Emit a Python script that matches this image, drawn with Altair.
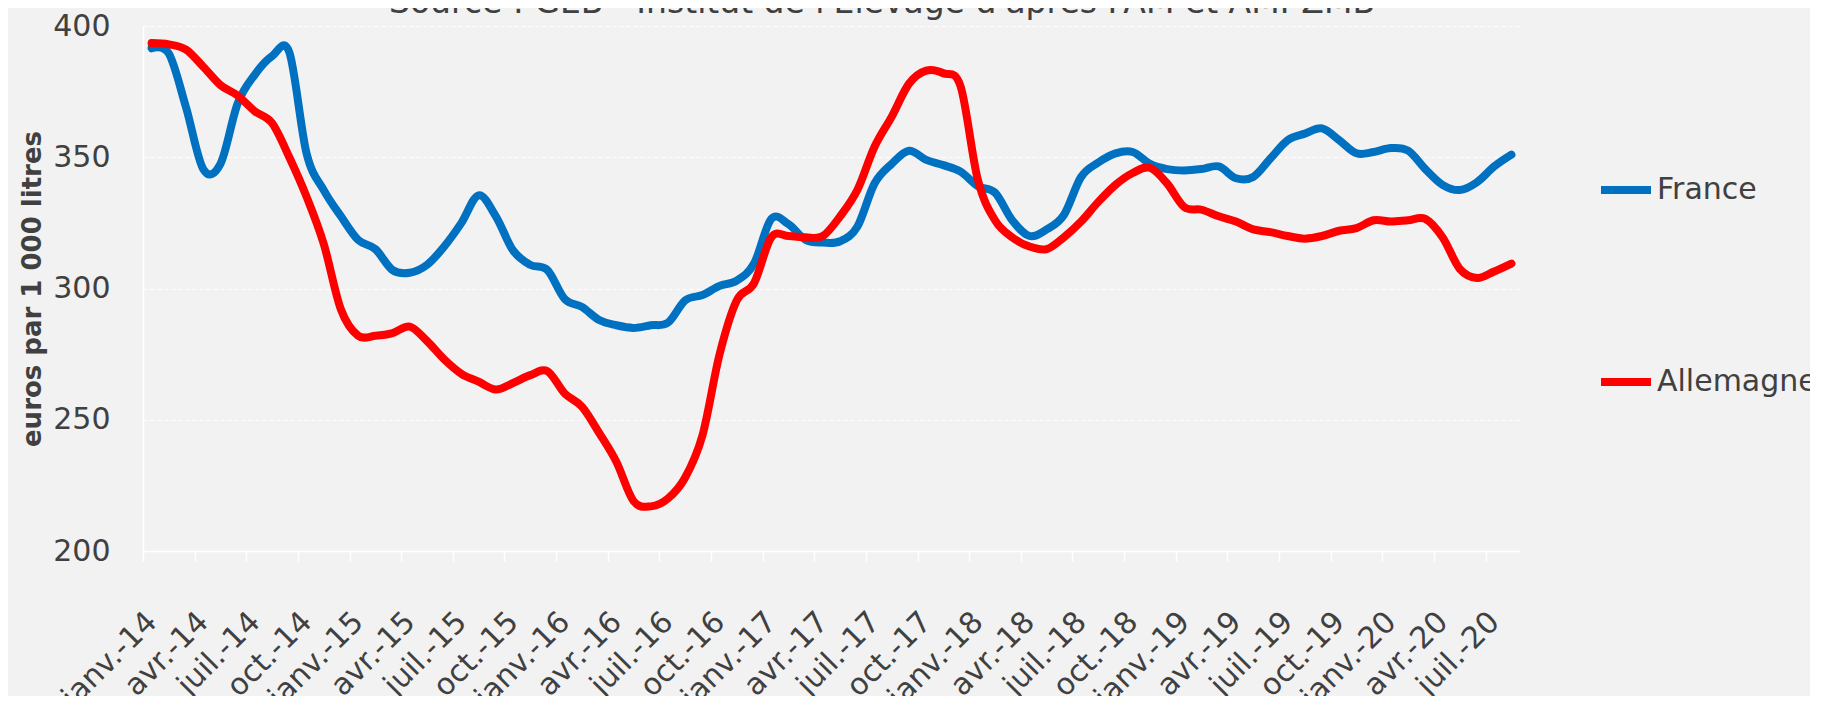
import altair as alt
import pandas as pd

mois = ["janv.", "févr.", "mars", "avr.", "mai", "juin",
        "juil.", "août", "sept.", "oct.", "nov.", "déc."]
annees = ["14", "15", "16", "17", "18", "19", "20"]
categories = [f"{m}-{a}" for a in annees for m in mois][:80]
tick_labels = categories[::3]

france = [391.5, 389.5, 369, 345.5, 347.5, 370.5, 381.5, 388.5, 390, 351.5,
          337.5, 327.5, 318.5, 315, 307, 306, 309, 316, 325, 335.5,
          327.5, 314.5, 309, 307, 296, 293, 288, 286, 285, 286,
          287, 295.5, 297.5, 301, 303, 309.5, 326.5, 324.5, 318.5, 317.5,
          318, 323.5, 340, 347.5, 352.5, 349, 347, 344.5, 339, 336.5,
          326, 320, 322.5, 328, 342.5, 348, 351.5, 352, 347.5, 345.5,
          345, 345.5, 346.5, 342, 342.5, 349.5, 356.5, 359, 361, 356.5,
          351.5, 352, 353.5, 352.5, 345.5, 339.5, 337.5, 340.5, 346.5, 351]

allemagne = [393.5, 393, 391, 384.5, 377.5, 373.5, 367.5, 363, 350, 335,
             317, 292, 282, 282, 283, 285.5, 280, 273, 267.5, 264.5,
             261.5, 264, 267, 268.5, 260, 255, 245, 234, 219, 217,
             220, 228, 244, 275, 295.5, 302, 319.5, 320, 319.5, 320,
             327.5, 337.5, 354, 365.5, 378, 383, 382, 377, 341.5, 326,
             319.5, 316, 315, 319.5, 325.5, 333, 339.5, 344, 346, 340,
             331, 330, 327.5, 325.5, 322.5, 321.5, 320, 319, 320, 322,
             323, 326, 325.5, 326, 326.5, 319.5, 307.5, 304, 306.5, 309.5]

series = ["France", "Allemagne"]
couleurs = ["#0070C0", "#FF0000"]
y_ticks = [200, 250, 300, 350, 400]
source_text = "Source : GEB - Institut de l'Elevage d'après FAM et AMI-ZMB"
y_title = "euros par 1 000 litres"

df = pd.DataFrame({
    "mois": categories * 2,
    "pays": ["France"] * len(france) + ["Allemagne"] * len(allemagne),
    "prix": france + allemagne,
})

W, H = 1377, 525
step = W / len(categories)
FONT = "DejaVu Sans"
GREY = "#404040"

x_enc = alt.X(
    "mois:O", sort=categories,
    scale=alt.Scale(type="point", padding=0.5),
    axis=alt.Axis(
        values=tick_labels, title=None, labelAngle=315,
        labelAlign="right", labelBaseline="middle",
        labelFontSize=30, labelFont=FONT, labelColor=GREY,
        labelPadding=56, tickOffset=-step / 2, labelOffset=step / 2,
        ticks=True, tickSize=10, tickColor="#ffffff", tickWidth=1.5,
        domain=True, domainColor="#ffffff", domainWidth=1.5,
        grid=False, labelOverlap=False,
    ),
)
y_enc = alt.Y(
    "prix:Q",
    scale=alt.Scale(domain=[200, 400], nice=False, zero=False),
    axis=alt.Axis(
        values=y_ticks, title=y_title, titleFontSize=26, titleFont=FONT,
        titleFontWeight="bold", titleColor=GREY, titleAngle=270,
        titleX=-103, titleY=H / 2, titleAlign="center", titleBaseline="alphabetic",
        labelFontSize=30, labelFont=FONT, labelColor=GREY, labelPadding=33,
        ticks=False, domain=True, domainColor="#ffffff", domainWidth=1.5,
        grid=True, gridColor="#ffffff", gridDash=[4, 3], gridWidth=1.2,
    ),
)
color_enc = alt.Color(
    "pays:N",
    scale=alt.Scale(domain=series, range=couleurs),
    legend=alt.Legend(
        title=None, orient="none", legendX=1454, legendY=135,
        symbolType="stroke", symbolSize=2500, symbolStrokeWidth=8,
        labelFontSize=30, labelFont=FONT, labelColor=GREY, labelOffset=2,
        labelLimit=400, rowPadding=147, padding=0,
    ),
)

base = alt.Chart(df).mark_line(strokeWidth=8, interpolate="cardinal",
                               strokeJoin="round", strokeCap="round")
lines = alt.layer(
    *[base.transform_filter(alt.datum.pays == s).encode(x=x_enc, y=y_enc, color=color_enc)
      for s in series]
)

title = alt.Chart(pd.DataFrame({"t": [source_text]})).mark_text(
    font=FONT, fontSize=33, color=GREY, align="center", baseline="alphabetic"
).encode(text="t:N", x=alt.value(739), y=alt.value(-13))

chart = alt.layer(lines, title).properties(
    width=W, height=H,
    autosize=alt.AutoSizeParams(type="none"),
    padding={"left": 135, "top": 18, "right": 290, "bottom": 145},
    background="#f2f2f2",
).configure_view(strokeWidth=0)

chart.save("out.html", embed_options={"renderer": "svg", "actions": False})
